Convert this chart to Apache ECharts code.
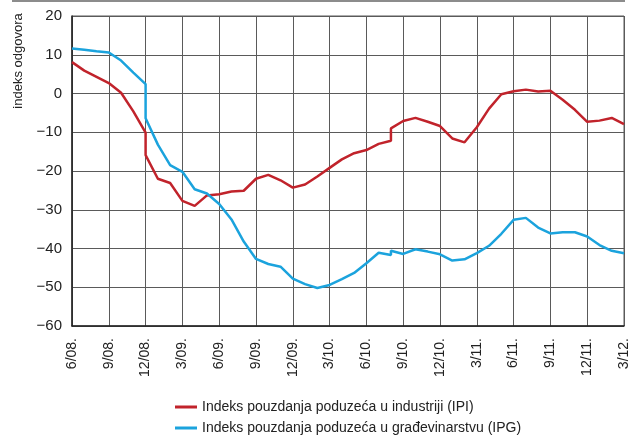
<!DOCTYPE html>
<html>
<head>
<meta charset="utf-8">
<script src="https://cdn.jsdelivr.net/npm/echarts@6/dist/echarts.min.js"></script>
<style>
  html, body { margin: 0; padding: 0; background: #fff; }
  #chart { width: 636px; height: 436px; }
</style>
</head>
<body>
<div id="chart"></div>
<script>
// months counted from 6/08; a month given twice marks a break in the series
const months = [0, 1, 2, 3, 4, 5, 6, 6, 7, 8, 9, 10, 11, 12, 13, 14, 15, 16, 17, 18, 19, 20,
  21, 22, 23, 24, 25, 26, 26, 27, 28, 29, 30, 31, 32, 33, 34, 35, 36, 37, 38, 39, 40,
  41, 42, 43, 44, 45]

const ipi = [8.1, 5.9, 4.3, 2.7, 0.2, -4.6, -10.1, -15.9, -22.0, -23.1, -27.7, -29.0, -26.3,
  -26.0, -25.3, -25.1, -22.0, -21.0, -22.4, -24.3, -23.5, -21.4, -19.2, -17.0, -15.4, -14.6,
  -13.0, -12.2, -9.0, -7.1, -6.3, -7.3, -8.4, -11.6, -12.6, -8.7, -3.9, -0.2, 0.6, 1.0, 0.5,
  0.7, -1.6, -4.2, -7.3, -7.0, -6.3, -7.9]

const ipg = [11.6, 11.3, 10.9, 10.6, 8.5, 5.4, 2.4, -6.4, -13.2, -18.5, -20.2, -24.7, -25.8,
  -28.5, -32.5, -38.2, -42.7, -44.0, -44.7, -47.8, -49.2, -50.2, -49.4, -47.9, -46.3, -43.8,
  -41.1, -41.7, -40.6, -41.4, -40.2, -40.8, -41.5, -43.1, -42.8, -41.2, -39.3, -36.2, -32.6,
  -32.1, -34.6, -36.1, -35.8, -35.8, -36.9, -39.1, -40.6, -41.2]

const tickLabels = ['6/08.', '9/08.', '12/08.', '3/09.', '6/09.', '9/09.', '12/09.', '3/10.',
  '6/10.', '9/10.', '12/10.', '3/11.', '6/11.', '9/11.', '12/11.', '3/12.']

const seriesNames = ['Indeks pouzdanja poduzeća u industriji (IPI)',
  'Indeks pouzdanja poduzeća u građevinarstvu (IPG)']

const font = 'Liberation Sans, Arial, sans-serif'

function pairs(ys) {
  return ys.map((y, i) => [months[i], y])
}

function legendRow(name, top) {
  return {
    left: 170,
    top: top,
    itemWidth: 22,
    itemHeight: 3,
    icon: 'rect',
    textStyle: { fontFamily: font, fontSize: 14, color: '#222' },
    data: [name]
  }
}

const chart = echarts.init(document.getElementById('chart'))

chart.setOption({
  backgroundColor: '#ffffff',
  animation: false,
  grid: {
    left: 72,
    right: 12,
    top: 16,
    bottom: 110,
    show: true,
    backgroundColor: 'transparent',
    borderColor: '#5a5a5a',
    borderWidth: 1
  },
  graphic: [{
    type: 'rect',
    shape: { x: 12, y: 0, width: 613, height: 2 },
    style: { fill: '#8c8c8c' }
  }, {
    type: 'text',
    x: 12,
    y: 61,
    rotation: Math.PI / 2,
    style: {
      text: 'indeks odgovora',
      font: '13px ' + font,
      fill: '#222',
      align: 'center',
      verticalAlign: 'top'
    }
  }],
  legend: [legendRow(seriesNames[0], 395), legendRow(seriesNames[1], 416)],
  xAxis: {
    type: 'value',
    min: 0,
    max: 45,
    interval: 3,
    axisLine: { onZero: false, lineStyle: { color: '#222', width: 1.5 } },
    axisTick: { show: false },
    splitLine: { show: true, lineStyle: { color: '#5a5a5a', width: 1 } },
    axisLabel: {
      rotate: 90,
      margin: 12,
      fontFamily: font,
      fontSize: 14,
      color: '#222',
      showMinLabel: true,
      showMaxLabel: true,
      formatter: function (v) {
        return tickLabels[Math.round(v / 3)]
      }
    }
  },
  yAxis: {
    type: 'value',
    min: -60,
    max: 20,
    interval: 10,
    axisLine: { show: true, lineStyle: { color: '#222', width: 1.5 } },
    axisTick: { show: false },
    splitLine: { show: true, lineStyle: { color: '#5a5a5a', width: 1 } },
    axisLabel: {
      margin: 10,
      fontFamily: font,
      fontSize: 15,
      color: '#222',
      formatter: function (v) {
        return v < 0 ? '\u2212' + Math.abs(v) : String(v)
      }
    }
  },
  series: [{
    name: seriesNames[0],
    type: 'line',
    showSymbol: false,
    color: '#c1232b',
    lineStyle: { width: 2.5 },
    data: pairs(ipi)
  }, {
    name: seriesNames[1],
    type: 'line',
    showSymbol: false,
    color: '#1ba3dd',
    lineStyle: { width: 2.5 },
    data: pairs(ipg)
  }]
})
</script>
</body>
</html>
